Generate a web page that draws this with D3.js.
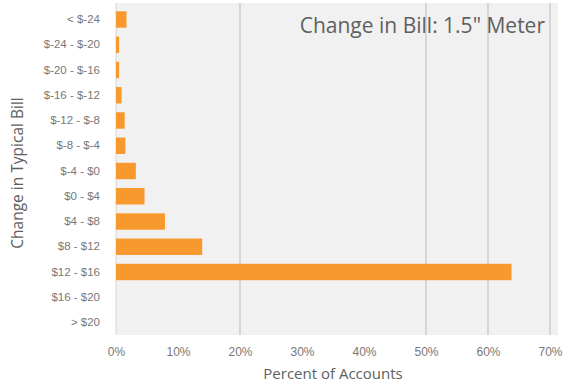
<!DOCTYPE html>
<html>
<head>
<meta charset="utf-8">
<script src="https://cdn.jsdelivr.net/npm/d3@7"></script>
<style>
  body { margin: 0; background: #fff; }
  svg { display: block; font-family: "Open Sans", "Liberation Sans", sans-serif; }
</style>
</head>
<body>
<svg id="chart" width="565" height="385"></svg>
<script>
// bill change buckets, top to bottom
const buckets = ["< $-24", "$-24 - $-20", "$-20 - $-16", "$-16 - $-12", "$-12 - $-8", "$-8 - $-4",
  "$-4 - $0", "$0 - $4", "$4 - $8", "$8 - $12", "$12 - $16", "$16 - $20", "> $20"]
// percent of accounts
const percents = [1.7, 0.5, 0.5, 0.9, 1.4, 1.5, 3.2, 4.6, 7.9, 13.9, 63.8, 0, 0]
const xTicks = [0, 10, 20, 30, 40, 50, 60, 70]
// only these gridlines show in the original
const gridTicks = [20, 50, 60, 70]

const svg = d3.select('#chart')
const mLeft = 116, mRight = 550, mTop = 7, mBottom = 335

const x = d3.scaleLinear().domain([0, 70]).range([mLeft, mRight])
const y = d3.scaleBand().domain(buckets).range([mTop, mBottom]).paddingInner(0.35).paddingOuter(0.17)

const rows = buckets.map((b, i) => ({ name: b, value: percents[i] }))

// plot background
svg.append('rect')
  .attr('x', mLeft).attr('y', 3)
  .attr('width', 558 - mLeft).attr('height', mBottom - 3)
  .attr('fill', '#f1f1f1')

svg.append('g')
  .selectAll('line')
  .data(gridTicks)
  .join('line')
    .attr('x1', d => x(d)).attr('x2', d => x(d))
    .attr('y1', 3).attr('y2', mBottom)
    .attr('stroke', '#c4c4c4')
    .attr('stroke-width', 1.2)

// left axis line
svg.append('line')
  .attr('x1', mLeft).attr('x2', mLeft)
  .attr('y1', 3).attr('y2', mBottom)
  .attr('stroke', '#d6d6d6')

svg.append('g')
  .selectAll('rect')
  .data(rows)
  .join('rect')
    .attr('x', x(0))
    .attr('y', d => y(d.name))
    .attr('width', d => x(d.value) - x(0))
    .attr('height', y.bandwidth())
    .attr('fill', '#f8992d')

const yAxis = svg.append('g')
  .attr('transform', `translate(${mLeft},0)`)
  .call(d3.axisLeft(y).tickSize(0).tickPadding(16))
yAxis.select('.domain').remove()
yAxis.selectAll('text')
  .attr('fill', '#777')
  .style('font-size', '11.5px')

const xAxis = svg.append('g')
  .attr('transform', `translate(0,${mBottom})`)
  .call(d3.axisBottom(x).tickValues(xTicks).tickFormat(d => d + '%').tickSize(0).tickPadding(12))
xAxis.select('.domain').remove()
xAxis.selectAll('text')
  .attr('fill', '#777')
  .style('font-size', '12px')

svg.append('text')
  .attr('x', 545).attr('y', 33)
  .attr('text-anchor', 'end')
  .attr('fill', '#606060')
  .style('font-size', '21px')
  .text('Change in Bill: 1.5" Meter')

svg.append('text')
  .attr('x', 333).attr('y', 379)
  .attr('text-anchor', 'middle')
  .attr('fill', '#606060')
  .style('font-size', '15px')
  .text('Percent of Accounts')

svg.append('text')
  .attr('transform', `translate(23,${(mTop + mBottom) / 2 + 2}) rotate(-90)`)
  .attr('text-anchor', 'middle')
  .attr('fill', '#606060')
  .style('font-size', '15.5px')
  .text('Change in Typical Bill')
</script>
</body>
</html>
